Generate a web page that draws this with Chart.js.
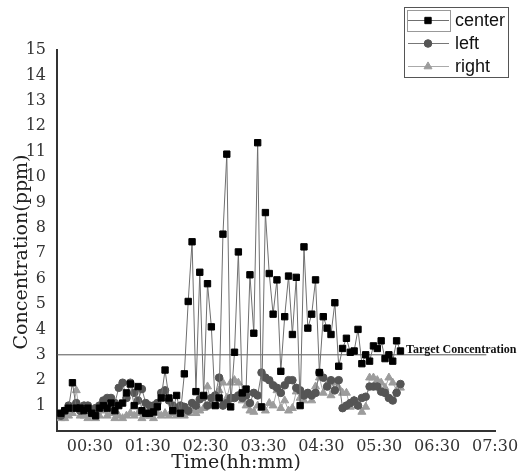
<!DOCTYPE html>
<html>
<head>
<meta charset="utf-8">
<script src="https://cdn.jsdelivr.net/npm/chart.js@4/dist/chart.umd.min.js"></script>
<style>
  body { margin: 0; background: #fff; }
  #wrap { width: 524px; height: 475px; }
</style>
</head>
<body>
<div id="wrap"><canvas id="chart" width="524" height="475"></canvas></div>
<script>
// =========================
// data (minutes since start, ppm)
// =========================
const times = [0,4,8,12,16,20,24,28,32,36,40,44,48,52,56,60,64,68,72,76,80,84,88,92,96,100,
  104,108,112,116,120,124,128,132,136,140,144,148,152,156,160,164,168,172,176,180,184,188,192,196,
  200,204,208,212,216,220,224,228,232,236,240,244,248,252,256,260,264,268,272,276,280,284,288,292,
  296,300,304,308,312,316,320,324,328,332,336,340,344,348,352];

const center = [0.7,0.8,0.9,1.9,0.9,0.9,0.8,0.9,0.7,0.6,
  0.9,1.0,0.9,1.1,0.8,1.0,1.1,1.5,1.85,1.0,
  1.75,0.8,0.7,0.7,0.75,0.95,1.3,2.4,1.3,0.8,
  1.4,0.7,2.25,5.1,7.45,1.55,6.25,1.4,5.8,4.1,
  1.0,1.3,7.75,10.9,0.95,3.1,7.05,1.5,1.65,6.15,
  3.85,11.35,0.95,8.6,6.2,4.6,5.95,2.35,4.5,6.1,
  3.8,6.05,1.0,7.25,4.05,4.6,5.95,2.3,4.5,4.05,
  3.8,5.05,2.55,3.25,3.65,3.1,3.15,4.0,2.65,3.0,
  2.75,3.35,3.25,3.55,2.85,3.0,2.75,3.55,3.15];

const left = [0.6,0.8,1.0,0.9,1.1,0.8,1.0,1.0,0.8,0.9,
  1.0,1.2,1.3,1.3,1.1,1.7,1.9,1.3,1.9,1.5,
  1.2,1.65,1.1,1.0,1.0,1.1,1.5,1.6,1.2,1.0,
  0.9,1.0,0.95,0.8,1.1,1.0,1.25,1.35,1.0,1.3,
  1.4,2.1,1.0,1.1,1.3,1.3,1.4,1.3,1.4,1.1,
  1.5,1.4,2.3,2.1,2.0,1.8,1.7,1.5,1.8,2.0,
  2.0,1.7,1.6,1.4,1.5,1.4,1.5,2.3,2.1,1.75,
  2.0,1.6,2.0,0.9,1.0,1.1,1.2,1.0,1.3,1.35,
  1.75,1.75,1.75,1.55,1.5,1.3,1.2,1.5,1.85];

const right = [0.5,0.5,0.6,0.7,1.6,0.6,0.6,0.5,0.6,0.5,
  0.6,0.8,0.6,0.7,0.5,0.6,0.5,0.6,0.7,0.6,
  0.7,0.5,0.6,0.6,0.5,0.7,0.6,0.7,0.6,0.7,
  0.6,0.7,0.6,0.7,0.8,0.7,0.8,0.9,1.75,1.0,
  1.4,1.6,1.9,1.3,1.9,2.0,1.9,1.2,1.0,0.8,
  0.75,1.0,0.9,0.8,1.1,1.0,1.6,0.9,1.2,0.8,
  0.9,1.55,1.3,1.2,1.4,1.2,1.75,2.1,1.5,1.8,
  1.4,1.9,1.7,1.5,1.5,0.95,1.2,1.0,0.75,0.95,
  2.1,2.1,2.0,1.9,1.7,2.1,1.9,1.6,1.7];

const xTicks = [30, 90, 150, 210, 270, 330, 390, 450];
const yTicks = [1,2,3,4,5,6,7,8,9,10,11,12,13,14,15];
const targetValue = 3;
const targetSpan = [-4, 441];
const seriesNames = ['center', 'left', 'right'];

const SERIF = '"DejaVu Serif", "Liberation Serif", serif';

function pts(vals) {
  return vals.map((v, i) => ({ x: times[i], y: v }));
}

function hhmm(m) {
  const h = Math.floor(m / 60), mm = m % 60;
  return String(h).padStart(2, '0') + ':' + String(mm).padStart(2, '0');
}

// =========================
// legend + texts
// =========================
const extras = {
  id: 'extras',
  afterDraw(chart) {
    const ctx = chart.ctx;
    const ys = chart.scales.y;
    ctx.save();

    // target label
    ctx.fillStyle = '#111';
    ctx.font = 'bold 12px "Liberation Serif", serif';
    ctx.textBaseline = 'alphabetic';
    ctx.textAlign = 'left';
    ctx.fillText('Target Concentration', 406, ys.getPixelForValue(targetValue) - 2);

    // axis titles
    ctx.fillStyle = '#222';
    ctx.font = '19px ' + SERIF;
    ctx.textAlign = 'center';
    ctx.textBaseline = 'middle';
    ctx.fillText('Time(hh:mm)', 236, 463);
    ctx.translate(22, 252);
    ctx.rotate(-Math.PI / 2);
    ctx.fillText('Concentration(ppm)', 0, 0);
    ctx.restore();

    // legend
    ctx.save();
    ctx.strokeStyle = '#555';
    ctx.lineWidth = 1;
    ctx.strokeRect(404.5, 7.5, 104, 70);
    ctx.strokeStyle = '#999';
    ctx.strokeRect(407.5, 10.5, 43, 21);
    chart.data.datasets.slice(0, 3).forEach((ds, i) => {
      const y = 20 + i * 23;
      ctx.strokeStyle = ds.borderColor;
      ctx.lineWidth = 1;
      ctx.beginPath();
      ctx.moveTo(408, y + 0.5);
      ctx.lineTo(449, y + 0.5);
      ctx.stroke();
      ctx.fillStyle = ds.pointBackgroundColor;
      ctx.strokeStyle = ds.pointBackgroundColor;
      Chart.helpers.drawPoint(ctx, { pointStyle: ds.pointStyle, radius: ds.pointRadius, borderWidth: 1, rotation: 0 }, 428, y + 0.5);
      ctx.fillStyle = '#111';
      ctx.font = '18px "Liberation Sans", Arial, sans-serif';
      ctx.textAlign = 'left';
      ctx.textBaseline = 'middle';
      ctx.fillText(seriesNames[i], 455, y + 1);
    });
    ctx.restore();
  }
};

// =========================
// chart
// =========================
new Chart(document.getElementById('chart'), {
  type: 'line',
  data: {
    datasets: [
      {
        label: seriesNames[0], data: pts(center),
        borderColor: '#6f6f6f', borderWidth: 1,
        pointStyle: 'rect', pointRadius: 4.5,
        pointBackgroundColor: '#000', pointBorderColor: '#000', pointBorderWidth: 1
      },
      {
        label: seriesNames[1], data: pts(left),
        borderColor: '#777', borderWidth: 1,
        pointStyle: 'circle', pointRadius: 3.8,
        pointBackgroundColor: '#555', pointBorderColor: '#555', pointBorderWidth: 1
      },
      {
        label: seriesNames[2], data: pts(right),
        borderColor: '#aaa', borderWidth: 1,
        pointStyle: 'triangle', pointRadius: 4.6,
        pointBackgroundColor: '#9c9c9c', pointBorderColor: '#9c9c9c', pointBorderWidth: 1
      },
      {
        label: 'target', data: targetSpan.map(x => ({ x: x, y: targetValue })),
        borderColor: '#555', borderWidth: 1, pointRadius: 0
      }
    ]
  },
  options: {
    responsive: false,
    animation: false,
    layout: { padding: { left: 0, top: 50, right: 29, bottom: 0 } },
    plugins: { legend: { display: false }, tooltip: { enabled: false } },
    scales: {
      x: {
        type: 'linear', min: -4, max: 450,
        grid: { display: false },
        border: { display: true, color: '#333', width: 2 },
        afterBuildTicks: s => { s.ticks = xTicks.map(v => ({ value: v })); },
        afterFit: s => { s.height = 44; },
        ticks: {
          color: '#333', font: { family: SERIF, size: 16 }, padding: -2,
          maxRotation: 0, autoSkip: false,
          callback: v => hhmm(v)
        }
      },
      y: {
        min: 0, max: 15,
        grid: { display: false },
        border: { display: true, color: '#333', width: 2 },
        afterBuildTicks: s => { s.ticks = yTicks.map(v => ({ value: v })); },
        afterFit: s => { s.width = 57; },
        ticks: { color: '#333', font: { family: SERIF, size: 16 }, padding: 3 }
      }
    }
  },
  plugins: [extras]
});
</script>
</body>
</html>
